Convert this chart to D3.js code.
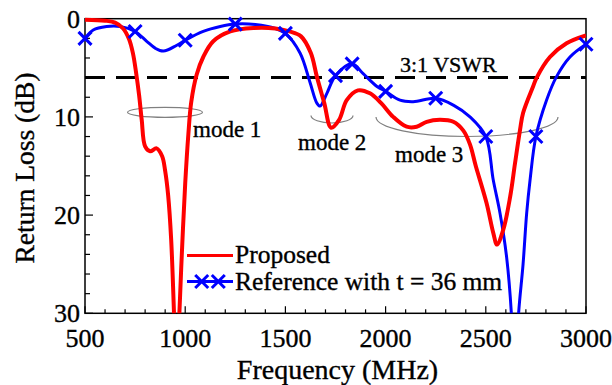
<!DOCTYPE html>
<html>
<head>
<meta charset="utf-8">
<script src="https://cdn.jsdelivr.net/npm/d3@7"></script>
<style>
  html, body { margin: 0; padding: 0; background: #fff; }
  svg { display: block; }
</style>
</head>
<body>
<svg id="chart" width="612" height="385" font-family="'Liberation Serif', 'Times New Roman', Times, 'DejaVu Serif', serif"></svg>
<script>
// ---- data ----
const xTicks = [500, 1000, 1500, 2000, 2500, 3000];
const yTicks = [0, 10, 20, 30];

const proposedFreq = [500, 600, 650, 690, 720, 740, 755, 770, 783, 800, 825, 857, 885, 900, 915, 930, 945, 958, 970, 984, 1000, 1016, 1030, 1057, 1090, 1140, 1225, 1340, 1450, 1520, 1578, 1627, 1657, 1694, 1728, 1768, 1806, 1862, 1922, 1978, 2038, 2105, 2155, 2205, 2271, 2338, 2388, 2421, 2450, 2504, 2537, 2556, 2587, 2621, 2646, 2671, 2686, 2736, 2754, 2820, 2903, 3000];
const proposedRL   = [0.1, 0.2, 0.4, 1.0, 2.1, 3.6, 5.5, 7.8, 10.3, 13.0, 13.5, 13.2, 14.0, 15.5, 18.0, 22.5, 30.5, 38, 30.5, 23.6, 16.8, 11.7, 8.5, 5.7, 3.9, 2.3, 1.3, 0.95, 1.0, 1.3, 1.8, 3.5, 5.9, 8.6, 11.1, 10.3, 8.3, 7.3, 7.6, 8.6, 10.0, 11.0, 11.0, 10.5, 10.3, 10.5, 11.4, 12.8, 15.0, 18.8, 21.8, 23.0, 21.5, 18.2, 14.7, 11.3, 9.6, 6.9, 6.0, 3.9, 2.5, 1.7];

const referenceFreq = [500, 541, 608, 675, 750, 808, 850, 891, 958, 1000, 1090, 1175, 1250, 1350, 1450, 1500, 1573, 1623, 1657, 1673, 1707, 1750, 1833, 1888, 1957, 2000, 2072, 2138, 2250, 2338, 2421, 2500, 2537, 2571, 2604, 2629, 2645, 2662, 2686, 2704, 2721, 2750, 2803, 2853, 2920, 3000];
const referenceRL   = [2.0, 1.15, 0.8, 0.8, 1.3, 2.3, 3.0, 3.3, 2.7, 2.2, 1.3, 0.8, 0.55, 0.6, 1.0, 1.5, 3.5, 6.5, 8.6, 8.9, 7.6, 5.8, 4.6, 5.6, 6.9, 7.4, 8.3, 8.45, 8.1, 8.8, 10.0, 12.0, 16.4, 19.8, 24.3, 30.5, 40, 30.5, 25, 19.8, 16.4, 12.0, 8.3, 5.9, 3.9, 2.6];
const referenceMarkerFreq = [500, 750, 1000, 1250, 1500, 1750, 1833, 2000, 2250, 2500, 2750, 3000];

const vswrLevel = 6;
const seriesNames = ["Proposed", "Reference with t = 36 mm"];
const seriesColors = ["#ff0000", "#0000ff"];

// ---- layout ----
const svg = d3.select("#chart");
const FONT = "'Liberation Serif', 'Times New Roman', Times, 'DejaVu Serif', serif";
const L = 85, R = 586, T = 18.7, B = 313.3;

const x = d3.scaleLinear().domain([500, 3000]).range([L, R]);
const y = d3.scaleLinear().domain([0, 30]).range([T, B]);

svg.append("defs").append("clipPath").attr("id", "clip")
  .append("rect").attr("x", L).attr("y", T - 3).attr("width", R - L).attr("height", B - T + 3);

function txt(g) {
  return g.append("text").attr("font-family", FONT).attr("fill", "#000")
    .attr("stroke", "#000").attr("stroke-width", 0.35);
}

// bottom axis: inward ticks
const gx = svg.append("g").attr("transform", `translate(0,${B})`);
gx.selectAll("line.tk").data(d3.range(500, 3001, 100)).enter().append("line")
  .attr("x1", d => x(d)).attr("x2", d => x(d))
  .attr("y1", 0).attr("y2", d => d % 500 === 0 ? -7 : -4)
  .attr("stroke", "#000").attr("stroke-width", 1.2);
xTicks.forEach(d => {
  txt(gx).attr("x", x(d)).attr("y", 33.5).attr("text-anchor", "middle")
    .attr("font-size", 26).text(d);
});

// left axis: inward ticks
const gy = svg.append("g").attr("transform", `translate(${L},0)`);
gy.selectAll("line.tk").data(d3.range(0, 31, 2)).enter().append("line")
  .attr("y1", d => y(d)).attr("y2", d => y(d))
  .attr("x1", 0).attr("x2", d => d % 10 === 0 ? 8 : 5)
  .attr("stroke", "#000").attr("stroke-width", 1.2);
yTicks.forEach(d => {
  txt(gy).attr("x", -5).attr("y", y(d)).attr("dy", "0.35em").attr("text-anchor", "end")
    .attr("font-size", 26).text(d);
});

// frame
svg.append("rect").attr("x", L).attr("y", T).attr("width", R - L).attr("height", B - T)
  .attr("fill", "none").attr("stroke", "#000").attr("stroke-width", 1.5);

// axis titles
txt(svg).attr("x", (L + R) / 2 + 2).attr("y", 379).attr("text-anchor", "middle")
  .attr("font-size", 28).text("Frequency (MHz)");
txt(svg).attr("transform", `translate(34,${(T + B) / 2 + 2}) rotate(-90)`)
  .attr("text-anchor", "middle").attr("font-size", 27.5).text("Return Loss (dB)");

// VSWR line
svg.append("line").attr("x1", L).attr("x2", R).attr("y1", y(vswrLevel)).attr("y2", y(vswrLevel))
  .attr("stroke", "#000").attr("stroke-width", 3).attr("stroke-dasharray", "20,11");
txt(svg).attr("x", 400).attr("y", 72).attr("font-size", 22).text("3:1 VSWR");

// mode ellipses
svg.append("ellipse").attr("cx", 165).attr("cy", 112.3).attr("rx", 37.5).attr("ry", 5)
  .attr("fill", "none").attr("stroke", "#808080").attr("stroke-width", 1.2);
function lowerArc(cx, cy, rx, ry) {
  return `M${cx - rx},${cy} A${rx},${ry} 0 0 0 ${cx + rx},${cy}`;
}
svg.append("path").attr("d", lowerArc(332, 115.5, 21, 7.5))
  .attr("fill", "none").attr("stroke", "#808080").attr("stroke-width", 1.2);
svg.append("path").attr("d", lowerArc(467, 117, 91, 19.5))
  .attr("fill", "none").attr("stroke", "#808080").attr("stroke-width", 1.2);

txt(svg).attr("x", 193).attr("y", 137).attr("font-size", 23).text("mode 1");
txt(svg).attr("x", 298).attr("y", 150).attr("font-size", 23).text("mode 2");
txt(svg).attr("x", 395).attr("y", 162).attr("font-size", 23).text("mode 3");

// curves
const line = d3.line().x(d => x(d[0])).y(d => y(d[1])).curve(d3.curveCatmullRom.alpha(0.5));
const plot = svg.append("g").attr("clip-path", "url(#clip)");

const refData = referenceFreq.map((f, i) => [f, referenceRL[i]]);
const propData = proposedFreq.map((f, i) => [f, proposedRL[i]]);

plot.append("path").datum(refData).attr("d", line)
  .attr("fill", "none").attr("stroke", seriesColors[1]).attr("stroke-width", 3);
plot.append("path").datum(propData).attr("d", line)
  .attr("fill", "none").attr("stroke", seriesColors[0]).attr("stroke-width", 4);

function cross(g, cx, cy, s) {
  g.append("path").attr("d", `M${cx - s},${cy - s}L${cx + s},${cy + s}M${cx - s},${cy + s}L${cx + s},${cy - s}`)
    .attr("stroke", seriesColors[1]).attr("stroke-width", 3).attr("fill", "none");
}
const markerG = svg.append("g");
referenceMarkerFreq.forEach(f => {
  const i = referenceFreq.indexOf(f);
  cross(markerG, x(f), y(referenceRL[i]), 6.5);
});

// legend
const lg = svg.append("g");
lg.append("line").attr("x1", 187).attr("x2", 233).attr("y1", 255.5).attr("y2", 255.5)
  .attr("stroke", seriesColors[0]).attr("stroke-width", 3);
txt(lg).attr("x", 235).attr("y", 263).attr("font-size", 25.5).text(seriesNames[0]);
lg.append("line").attr("x1", 187).attr("x2", 233).attr("y1", 281.5).attr("y2", 281.5)
  .attr("stroke", seriesColors[1]).attr("stroke-width", 3);
cross(lg, 201.7, 281.5, 6.5);
cross(lg, 218.3, 281.5, 6.5);
txt(lg).attr("x", 235).attr("y", 290).attr("font-size", 25.5).text(seriesNames[1]);
</script>
</body>
</html>
